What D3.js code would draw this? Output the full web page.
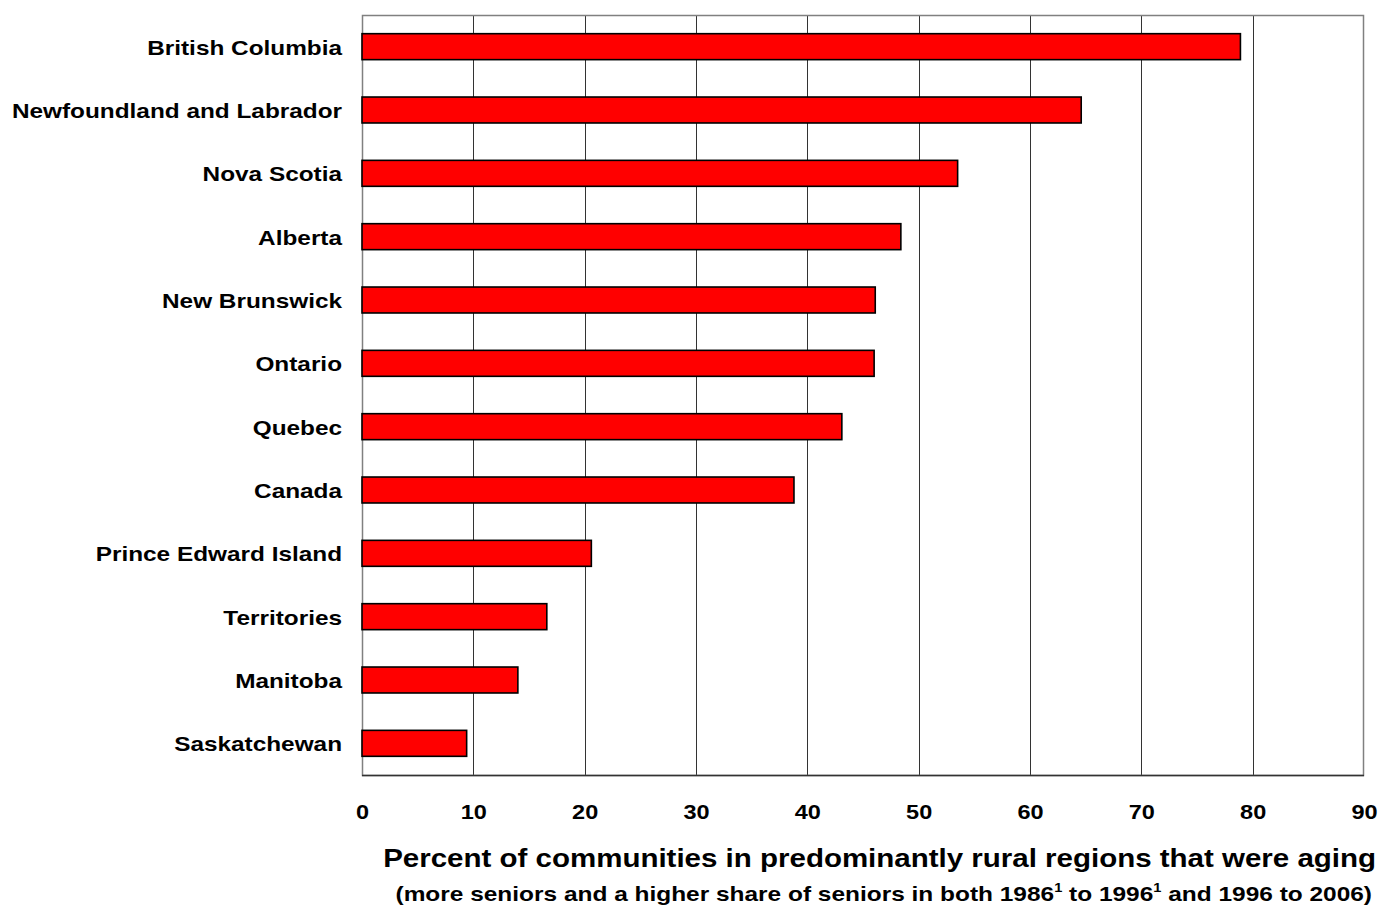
<!DOCTYPE html>
<html><head><meta charset="utf-8">
<script src="https://cdn.jsdelivr.net/npm/d3@7"></script>
<style>body{margin:0;background:#fff}svg{display:block}text{font-family:"Liberation Sans",Arial,sans-serif;font-weight:bold;fill:#000}</style>
</head><body>
<svg id="c" width="1381" height="908"></svg>
<script>
const categories = ["British Columbia","Newfoundland and Labrador","Nova Scotia","Alberta","New Brunswick","Ontario","Quebec","Canada","Prince Edward Island","Territories","Manitoba","Saskatchewan"];
const values = [78.9,64.6,53.5,48.4,46.1,46.0,43.1,38.8,20.6,16.6,14.0,9.4];
const ticks = [0,10,20,30,40,50,60,70,80,90];
const titleText = "Percent of communities in predominantly rural regions that were aging";

const svg = d3.select("#c");
const L = 362, R = 1364, T = 15, B = 775;
const SX = 1.16;
const x = d3.scaleLinear().domain([0,90]).range([L,R]);
const y = d3.scaleBand().domain(categories).range([T,B]).paddingInner(0.59).paddingOuter(0.295);

// grid
svg.append("g").selectAll("line").data(ticks.filter(t=>t>0&&t<90)).join("line")
  .attr("x1",d=>Math.round(x(d))+0.5).attr("x2",d=>Math.round(x(d))+0.5)
  .attr("y1",T).attr("y2",B).attr("stroke","#333").attr("stroke-width",1);
// frame
svg.append("rect").attr("x",L+0.5).attr("y",T+0.5).attr("width",R-L-1).attr("height",B-T)
  .attr("fill","none").attr("stroke","#808080").attr("stroke-width",1.5);
svg.append("line").attr("x1",L).attr("x2",R).attr("y1",B+0.5).attr("y2",B+0.5).attr("stroke","#333").attr("stroke-width",1.5);

// bars
svg.append("g").selectAll("rect").data(values).join("rect")
  .attr("x",x(0)).attr("y",(d,i)=>y(categories[i]))
  .attr("width",d=>x(d)-x(0)).attr("height",y.bandwidth())
  .attr("fill","#ff0000").attr("stroke","#000").attr("stroke-width",1.6);

// x axis labels
const ax = d3.axisBottom(x).tickValues(ticks).tickSize(0).tickPadding(0);
const gx = svg.append("g").attr("transform",`translate(0,${B})`).call(ax);
gx.select(".domain").remove();
gx.selectAll("text").attr("y",44).attr("dy",0).attr("transform",`scale(1.12,1)`)
  .style("font-size","21px").style("font-family","Liberation Sans, Arial, sans-serif").style("font-weight","bold").attr("fill","#000");

// y axis labels
const ay = d3.axisLeft(y).tickSize(0).tickPadding(0);
const gy = svg.append("g").attr("transform",`translate(${L},0)`).call(ay);
gy.select(".domain").remove();
gy.selectAll("text").attr("x",-20/SX).attr("dy","0.38em").attr("transform",`scale(${SX},1)`)
  .style("font-size","21px").style("font-family","Liberation Sans, Arial, sans-serif").style("font-weight","bold").attr("fill","#000");

// titles
svg.append("g").attr("transform","translate(1376,867) scale(1.18,1)")
  .append("text").attr("text-anchor","end").style("font-size","25px").text(titleText);
const st = svg.append("g").attr("transform","translate(1372,901) scale(1.222,1)")
  .append("text").attr("text-anchor","end").style("font-size","20px");
st.append("tspan").text("(more seniors and a higher share of seniors in both 1986");
st.append("tspan").attr("dy",-9).style("font-size","12px").text("1");
st.append("tspan").attr("dy",9).text(" to 1996");
st.append("tspan").attr("dy",-9).style("font-size","12px").text("1");
st.append("tspan").attr("dy",9).text(" and 1996 to 2006)");
</script>
</body></html>
